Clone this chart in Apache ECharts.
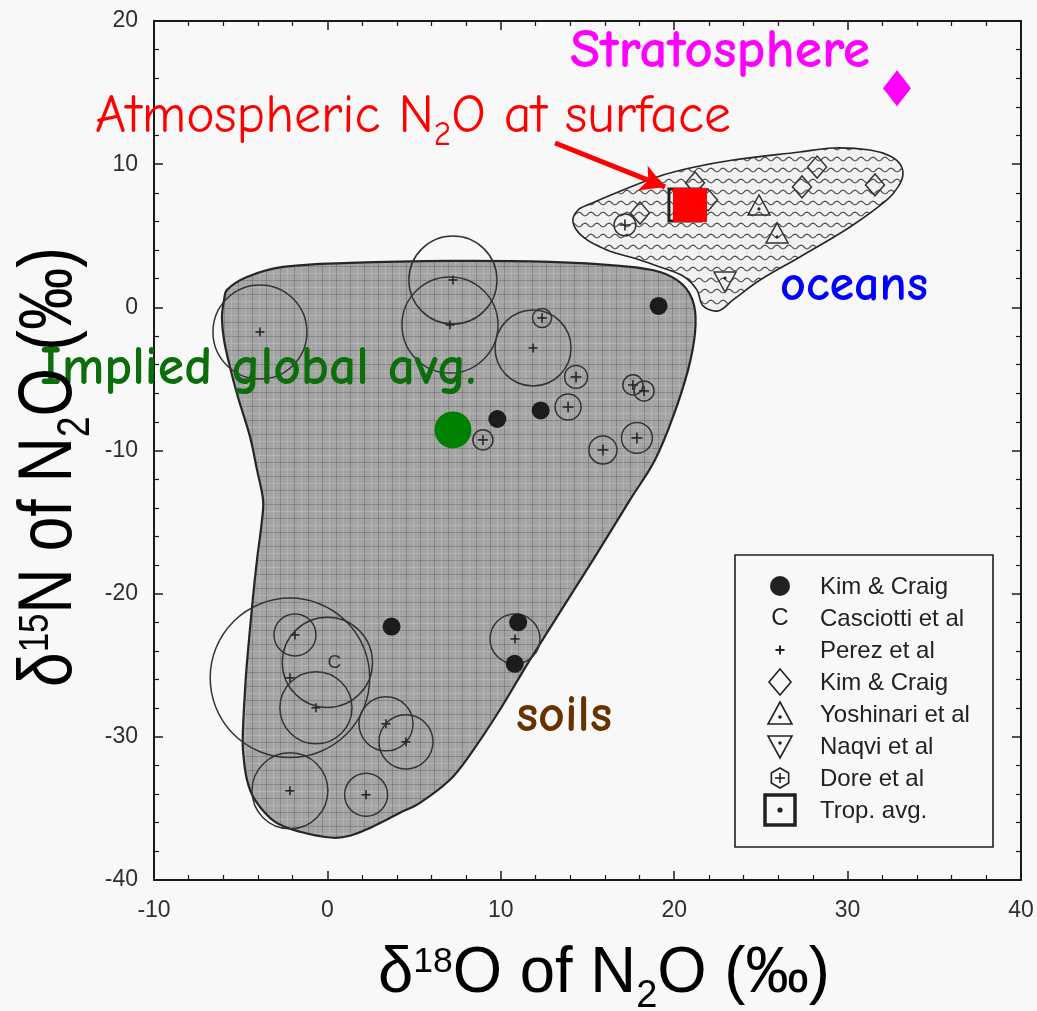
<!DOCTYPE html>
<html>
<head>
<meta charset="utf-8">
<script src="https://cdn.jsdelivr.net/npm/echarts@6/dist/echarts.min.js"></script>
<style>
html, body { margin: 0; padding: 0; background: #f8f8f8; }
#chart { width: 1037px; height: 1011px; }
</style>
</head>
<body>
<div id="chart"></div>
<script>
// ---- axis ticks (per mil) ----
const xTicks = [-10, 0, 10, 20, 30, 40];
const yTicks = [-40, -30, -20, -10, 0, 10, 20];

// ---- source fields, outlines as [δ18O, δ15N] ----
const soilsOutline = [
  [-5.79, 1.22], [-4.64, 2.12], [-2.56, 2.82], [1.30, 3.10], [7.07, 3.24], [12.84, 3.17],
  [16.87, 2.89], [19.18, 2.47], [20.51, 1.56], [21.14, 0.17], [21.20, -1.79], [20.80, -4.37],
  [19.93, -7.65], [18.89, -10.66], [17.45, -13.45], [15.32, -17.64], [11.68, -24.62],
  [9.95, -28.11], [8.22, -31.26], [7.07, -33.0], [5.34, -34.61], [4.19, -35.31], [2.46, -36.36],
  [1.30, -36.91], [0.32, -37.05], [-1.58, -36.63], [-3.02, -35.94], [-4.18, -34.40],
  [-4.64, -33.0], [-4.87, -30.91], [-4.87, -29.51], [-4.75, -26.72], [-4.64, -24.83],
  [-4.29, -20.22], [-4.06, -17.64], [-3.77, -14.85], [-3.71, -13.45], [-4.06, -11.35],
  [-4.46, -9.05], [-5.16, -6.26], [-5.62, -4.16], [-5.96, -2.28], [-6.08, -0.67], [-5.96, 0.52]
];
const oceansOutline = [
  [14.16, 5.96], [14.45, 6.80], [15.14, 7.22], [17.05, 8.20], [19.01, 9.11], [20.91, 9.73],
  [23.39, 10.29], [27.25, 10.85], [29.16, 11.13], [31.29, 10.99], [32.45, 10.57], [33.02, 10.01],
  [33.19, 9.25], [32.91, 8.41], [32.27, 7.50], [30.14, 5.61], [27.25, 3.52], [24.95, 1.91],
  [23.39, 0.52], [22.53, -0.25], [21.66, 0.10], [21.31, 1.22], [20.51, 2.19], [19.18, 2.82],
  [18.03, 3.31], [16.12, 4.01], [14.74, 4.92]
];

// ---- measurements ----
// Kim & Craig, soils
const kimCraigSoils = [[19.1, 0.1], [9.8, -7.8], [12.3, -7.2], [3.7, -22.3], [11.0, -22.0], [10.8, -24.9]];
// Casciotti et al: [δ18O, δ15N, spread radius in δ18O units]
const casciotti = [[0.0, -24.8, 2.6]];
// Perez et al: [δ18O, δ15N, spread radius]
const perez = [
  [-3.89, -1.72, 2.71], [7.24, 1.91, 2.54], [7.07, -1.23, 2.77], [11.86, -2.84, 2.19],
  [-1.87, -22.88, 1.21], [-2.16, -25.88, 4.6], [-0.66, -27.97, 2.08], [3.38, -29.09, 1.56],
  [4.53, -30.35, 1.56], [-2.16, -33.77, 2.19], [2.23, -34.05, 1.24], [10.82, -23.16, 1.44]
];
// Kim & Craig, oceans
const kimCraigOceans = [[21.2, 8.69], [21.95, 7.5], [28.24, 9.8], [27.37, 8.41], [31.58, 8.55], [18.03, 6.59]];
// Yoshinari et al
const yoshinari = [[24.89, 7.01], [25.93, 5.06]];
// Naqvi et al
const naqvi = [[22.93, 1.91]];
// Dore et al: [δ18O, δ15N, spread radius]
const dore = [
  [12.38, -0.74, 0.55], [14.34, -4.86, 0.66], [13.88, -6.96, 0.75], [8.97, -9.26, 0.58],
  [17.62, -5.42, 0.58], [18.26, -5.84, 0.58], [17.85, -9.12, 0.89], [15.89, -9.96, 0.81],
  [17.16, 5.75, 0.63]
];
// tropospheric average
const tropAvg = [[20.62, 7.15]];

// ---- highlighted reservoirs ----
const surfaceAtmosphere = [[20.91, 7.15]];
const stratosphere = [[32.85, 15.3]];
const impliedGlobalAvg = [[7.24, -8.56]];
const arrowFrom = [13.13, 11.48];
const arrowTo = [19.47, 8.41];

const legendNames = ['Kim & Craig', 'Casciotti et al', 'Perez et al', 'Kim & Craig',
  'Yoshinari et al', 'Naqvi et al', 'Dore et al', 'Trop. avg.'];

// ---- textures ----
function soilTexture() {
  const c = document.createElement('canvas');
  c.width = 14; c.height = 14;
  const g = c.getContext('2d');
  g.fillStyle = '#a4a4a4'; g.fillRect(0, 0, 14, 14);
  g.fillStyle = 'rgba(70,70,70,0.30)';
  g.fillRect(0, 0, 1, 14); g.fillRect(0, 0, 14, 1);
  g.fillStyle = 'rgba(255,255,255,0.16)';
  g.fillRect(7, 0, 1, 14); g.fillRect(0, 7, 14, 1);
  return c;
}
function waveTexture() {
  const c = document.createElement('canvas');
  c.width = 24; c.height = 22;
  const g = c.getContext('2d');
  g.fillStyle = '#f1f1f1'; g.fillRect(0, 0, 24, 22);
  g.fillStyle = '#c4c4c4';
  [[3, 10], [15, 10], [9, 21], [21, 21]].forEach(([x, y]) => g.fillRect(x, y, 1, 1));
  g.strokeStyle = '#505050'; g.lineWidth = 1.2;
  [[5, 0], [16, 6]].forEach(([y0, shift]) => {
    g.beginPath();
    for (let x = 0; x <= 24; x++) {
      const y = y0 + 1.8 * Math.sin((x + shift) / 12 * 2 * Math.PI);
      if (x === 0) g.moveTo(x, y); else g.lineTo(x, y);
    }
    g.stroke();
  });
  return c;
}

// ---- text fitting ----
const measureCtx = document.createElement('canvas').getContext('2d');
function textWidth(text, weight, size, family) {
  measureCtx.font = weight + ' ' + size + 'px ' + family;
  return measureCtx.measureText(text).width;
}
const HAND = '"Comic Sans MS", "Comic Neue", Lato, sans-serif';
const SANS = '"Liberation Sans", Arial, sans-serif';
function fitSize(text, weight, target) {
  return 100 * target / textWidth(text, weight, 100, HAND);
}

// ---- glyph helpers ----
function plusShape(cx, cy, h, w, color) {
  return [
    { type: 'line', shape: { x1: cx - h, y1: cy, x2: cx + h, y2: cy }, style: { stroke: color, lineWidth: w } },
    { type: 'line', shape: { x1: cx, y1: cy - h, x2: cx, y2: cy + h }, style: { stroke: color, lineWidth: w } }
  ];
}
const INK = '#262626';

function spreadCircleItem(withPlus, plusHalf) {
  return function (params, api) {
    const c = api.coord([api.value(0), api.value(1)]);
    const r = api.size([api.value(2), 0])[0];
    const kids = [{ type: 'circle', shape: { cx: c[0], cy: c[1], r: r },
      style: { fill: 'none', stroke: '#333', lineWidth: 1.5 } }];
    if (withPlus) kids.push(...plusShape(c[0], c[1], plusHalf(r), 1.6, INK));
    return { type: 'group', children: kids };
  };
}

function polygonItem(outline, fill, lineWidth) {
  return function (params, api) {
    if (params.dataIndex !== 0) return null;
    return {
      type: 'polygon',
      shape: { points: outline.map(p => api.coord(p)), smooth: 0.35 },
      style: { fill: fill, stroke: INK, lineWidth: lineWidth }
    };
  };
}

function triangleItem(down) {
  return function (params, api) {
    const c = api.coord([api.value(0), api.value(1)]);
    const s = down ? -1 : 1;
    const pts = [[c[0], c[1] - 12 * s], [c[0] + 11, c[1] + 8 * s], [c[0] - 11, c[1] + 8 * s]];
    return { type: 'group', children: [
      { type: 'polygon', shape: { points: pts }, style: { fill: 'none', stroke: '#333', lineWidth: 1.5 } },
      { type: 'circle', shape: { cx: c[0], cy: c[1] + 2 * s, r: 1.6 }, style: { fill: INK } }
    ] };
  };
}

const chart = echarts.init(document.getElementById('chart'), null, { renderer: 'canvas' });

const axisBase = {
  type: 'value',
  axisLine: { show: true, onZero: false, lineStyle: { color: '#1a1a1a', width: 2 } },
  axisTick: { show: true, inside: true, length: 9, lineStyle: { color: '#1a1a1a', width: 1.5 } },
  minorTick: { show: true, splitNumber: 5, length: 5, lineStyle: { color: '#1a1a1a', width: 1.2 } },
  splitLine: { show: false },
  minorSplitLine: { show: false }
};
const tickLabel = { fontSize: 23, color: '#2e2e2e', fontFamily: SANS };
const xRange = { min: xTicks[0], max: xTicks[xTicks.length - 1], interval: xTicks[1] - xTicks[0] };
const yRange = { min: yTicks[0], max: yTicks[yTicks.length - 1], interval: yTicks[1] - yTicks[0] };

// ---- annotation texts ----
const notes = [
  { text: 'Stratosphere', weight: 'bold', color: '#ff00ff', x: 570, base: 70, width: 300 },
  { text: 'oceans', weight: 'bold', color: '#0000ff', x: 780, base: 302, width: 148 },
  { text: 'Implied global avg.', weight: 'bold', color: '#0b6e0b', x: 40, base: 387, width: 436 },
  { text: 'soils', weight: 'bold', color: '#663300', x: 516, base: 733, width: 96 }
];
const noteGraphics = notes.map(n => {
  const fs = fitSize(n.text, n.weight, n.width);
  return { type: 'text', x: n.x, y: n.base - 0.33 * fs, z: 100,
    style: { text: n.text, fontSize: fs, fontWeight: n.weight, fontFamily: HAND,
      fill: n.color, verticalAlign: 'middle', align: 'left' } };
});
// "Atmospheric N2O at surface"
const atmFs = 100 * 636 / (textWidth('Atmospheric NO at surface', 'normal', 100, HAND) +
  textWidth('2', 'normal', 62, HAND));
noteGraphics.push({
  type: 'text', x: 95, y: 135 - 0.33 * atmFs, z: 100,
  style: {
    text: '{a|Atmospheric N}{b|2}{a|O at surface}', align: 'left', verticalAlign: 'middle',
    rich: {
      a: { fontSize: atmFs, fontFamily: HAND, fill: '#ff0000', lineHeight: atmFs * 1.3 },
      b: { fontSize: atmFs * 0.62, fontFamily: HAND, fill: '#ff0000', verticalAlign: 'bottom',
        lineHeight: atmFs * 0.62 }
    }
  }
});

// ---- axis titles ----
function titleRich(size) {
  return {
    a: { fontSize: size, fontFamily: SANS, fill: '#000', lineHeight: size * 1.3 },
    p: { fontSize: size * 0.56, fontFamily: SANS, fill: '#000', verticalAlign: 'top',
      lineHeight: size * 0.56, padding: [size * 0.18, 0, 0, 0] },
    b: { fontSize: size * 0.6, fontFamily: SANS, fill: '#000', verticalAlign: 'bottom',
      lineHeight: size * 0.6 }
  };
}
function titleWidth(size, sup, head) {
  return textWidth('δ', 'normal', size, SANS) + textWidth(sup, 'normal', size * 0.56, SANS) +
    textWidth(head + ' of N', 'normal', size, SANS) + textWidth('2', 'normal', size * 0.6, SANS) +
    textWidth('O (‰)', 'normal', size, SANS);
}
const xTitleSize = 64;
const xTitleScale = 452 / titleWidth(xTitleSize, '18', 'O');
const yTitleSize = 76;
const yTitleScale = 440 / titleWidth(yTitleSize, '15', 'N');
const titleGraphics = [
  { type: 'text', x: 604, y: 974, scaleX: xTitleScale, z: 100,
    style: { text: '{a|δ}{p|18}{a|O of N}{b|2}{a|O (‰)}', align: 'center', verticalAlign: 'middle',
      rich: titleRich(xTitleSize) } },
  { type: 'text', x: 50, y: 467, rotation: Math.PI / 2, scaleX: yTitleScale, z: 100,
    style: { text: '{a|δ}{p|15}{a|N of N}{b|2}{a|O (‰)}', align: 'center', verticalAlign: 'middle',
      rich: titleRich(yTitleSize) } }
];

// ---- legend box ----
function legendSymbol(i) {
  switch (i) {
    case 0: return [{ type: 'circle', shape: { cx: 0, cy: 0, r: 10 }, style: { fill: '#222' } }];
    case 1: return [{ type: 'text', x: 0, y: 0, style: { text: 'C', fontSize: 24, fontFamily: SANS,
      fill: '#222', align: 'center', verticalAlign: 'middle' } }];
    case 2: return plusShape(0, 0, 4.5, 2, '#222');
    case 3: return [{ type: 'polygon', shape: { points: [[0, -13], [11, 0], [0, 13], [-11, 0]] },
      style: { fill: 'none', stroke: '#222', lineWidth: 1.6 } }];
    case 4: return [
      { type: 'polygon', shape: { points: [[0, -12], [12, 10], [-12, 10]] },
        style: { fill: 'none', stroke: '#222', lineWidth: 1.6 } },
      { type: 'circle', shape: { cx: 0, cy: 3, r: 1.8 }, style: { fill: '#222' } }];
    case 5: return [
      { type: 'polygon', shape: { points: [[-12, -10], [12, -10], [0, 12]] },
        style: { fill: 'none', stroke: '#222', lineWidth: 1.6 } },
      { type: 'circle', shape: { cx: 0, cy: -3, r: 1.8 }, style: { fill: '#222' } }];
    case 6: {
      const hex = [];
      for (let k = 0; k < 6; k++) {
        const a = Math.PI / 2 + k * Math.PI / 3;
        hex.push([10 * Math.cos(a), 10 * Math.sin(a)]);
      }
      return [{ type: 'polygon', shape: { points: hex },
        style: { fill: 'none', stroke: '#222', lineWidth: 1.6 } }].concat(plusShape(0, 0, 5, 1.6, '#222'));
    }
    default: return [
      { type: 'rect', shape: { x: -15, y: -15, width: 30, height: 30 },
        style: { fill: 'none', stroke: '#222', lineWidth: 3.5 } },
      { type: 'circle', shape: { cx: 0, cy: 0, r: 2.6 }, style: { fill: '#222' } }];
  }
}
const legendGraphic = {
  type: 'group', x: 735, y: 555, z: 100,
  children: [
    { type: 'rect', shape: { x: 0, y: 0, width: 258, height: 292 },
      style: { fill: '#f8f8f8', stroke: '#1e1e1e', lineWidth: 1.6 } }
  ].concat(legendNames.map((name, i) => ({
    type: 'group', x: 45, y: 31 + 32 * i,
    children: legendSymbol(i).concat([{ type: 'text', x: 40, y: 1,
      style: { text: name, fontSize: 24, fontFamily: SANS, fill: '#222', verticalAlign: 'middle' } }])
  })))
};

const solid = c => ({ color: c, opacity: 1 });

const option = {
  animation: false,
  backgroundColor: '#f8f8f8',
  grid: { left: 154, right: 16, top: 21, bottom: 131 },
  xAxis: [
    Object.assign({}, axisBase, xRange, { position: 'bottom', axisLabel: Object.assign({ margin: 19 }, tickLabel) }),
    Object.assign({}, axisBase, xRange, { position: 'top', axisLabel: { show: false } })
  ],
  yAxis: [
    Object.assign({}, axisBase, yRange, { position: 'left', axisLabel: Object.assign({ margin: 16 }, tickLabel) }),
    Object.assign({}, axisBase, yRange, { position: 'right', axisLabel: { show: false } })
  ],
  series: [
    { name: 'soils', type: 'custom', z: 1, silent: true, data: soilsOutline,
      renderItem: polygonItem(soilsOutline, { image: soilTexture(), repeat: 'repeat' }, 2.2) },
    { name: 'oceans', type: 'custom', z: 1, silent: true, data: oceansOutline,
      renderItem: polygonItem(oceansOutline, { image: waveTexture(), repeat: 'repeat' }, 1.6) },
    { name: 'Perez et al', type: 'custom', z: 2, silent: true, data: perez, encode: { x: 0, y: 1 },
      renderItem: spreadCircleItem(true, () => 4.5) },
    { name: 'Casciotti et al', type: 'custom', z: 2, silent: true, data: casciotti, encode: { x: 0, y: 1 },
      renderItem: function (params, api) {
        const c = api.coord([api.value(0), api.value(1)]);
        const r = api.size([api.value(2), 0])[0];
        return { type: 'group', children: [
          { type: 'circle', shape: { cx: c[0], cy: c[1], r: r }, style: { fill: 'none', stroke: '#333', lineWidth: 1.5 } },
          { type: 'text', x: c[0] + 7, y: c[1], style: { text: 'C', fontSize: 19, fontFamily: SANS,
            fill: '#333', align: 'center', verticalAlign: 'middle' } }
        ] };
      } },
    { name: 'Dore et al', type: 'custom', z: 3, silent: true, data: dore, encode: { x: 0, y: 1 },
      renderItem: spreadCircleItem(true, r => Math.min(5.5, r * 0.5)) },
    { name: 'Kim & Craig (soils)', type: 'scatter', z: 3, silent: true, data: kimCraigSoils,
      symbol: 'circle', symbolSize: 18, itemStyle: solid('#1c1c1c') },
    { name: 'Kim & Craig (oceans)', type: 'scatter', z: 3, silent: true, data: kimCraigOceans,
      symbol: 'diamond', symbolSize: [19, 22],
      itemStyle: { color: 'rgba(0,0,0,0)', borderColor: '#333', borderWidth: 1.5, opacity: 1 } },
    { name: 'Yoshinari et al', type: 'custom', z: 3, silent: true, data: yoshinari, encode: { x: 0, y: 1 },
      renderItem: triangleItem(false) },
    { name: 'Naqvi et al', type: 'custom', z: 3, silent: true, data: naqvi, encode: { x: 0, y: 1 },
      renderItem: triangleItem(true) },
    { name: 'Trop. avg.', type: 'custom', z: 3, silent: true, data: tropAvg, encode: { x: 0, y: 1 },
      renderItem: function (params, api) {
        const c = api.coord([api.value(0), api.value(1)]);
        return { type: 'group', children: [
          { type: 'rect', shape: { x: c[0] - 16, y: c[1] - 16, width: 32, height: 32 },
            style: { fill: 'none', stroke: '#222', lineWidth: 3 } },
          { type: 'circle', shape: { cx: c[0], cy: c[1], r: 2.4 }, style: { fill: '#222' } }
        ] };
      } },
    { name: 'Atmospheric N2O at surface', type: 'scatter', z: 5, silent: true, data: surfaceAtmosphere,
      symbol: 'rect', symbolSize: 34, itemStyle: solid('#ff0000'),
      markLine: {
        silent: true, symbol: ['none', 'arrow'], symbolSize: [20, 24],
        label: { show: false },
        lineStyle: { color: '#ff0000', width: 5, type: 'solid', opacity: 1 },
        emphasis: { disabled: true },
        data: [[{ coord: arrowFrom }, { coord: arrowTo }]]
      } },
    { name: 'Stratosphere', type: 'scatter', z: 5, silent: true, data: stratosphere,
      symbol: 'diamond', symbolSize: [28, 36], itemStyle: solid('#ff00ff') },
    { name: 'Implied global avg.', type: 'scatter', z: 5, silent: true, data: impliedGlobalAvg,
      symbol: 'circle', symbolSize: 37, itemStyle: solid('#008000') }
  ],
  graphic: [legendGraphic].concat(noteGraphics, titleGraphics)
};

chart.setOption(option);
</script>
</body>
</html>
